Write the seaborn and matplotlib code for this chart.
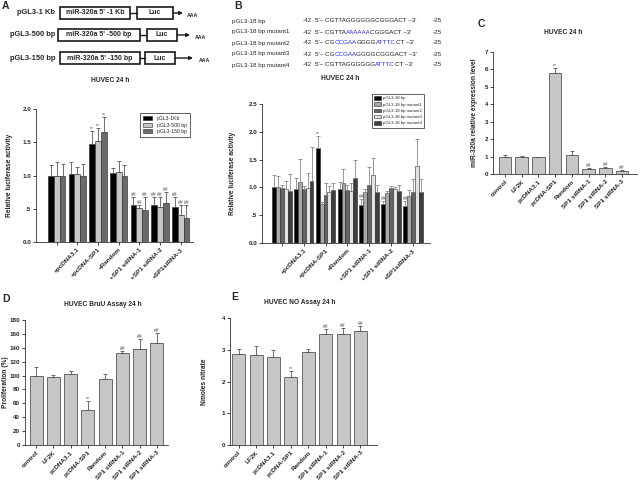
import numpy as np
import pandas as pd
import seaborn as sns
import matplotlib.pyplot as plt
from matplotlib.patches import Rectangle
from matplotlib.font_manager import FontProperties

# ---- panel A: luciferase activity of three promoter constructs ----
a_groups = ['ctrl', '+pcDNA3.1', '+pcDNA-SP1', '+Random', '+SP1 siRNA-1', '+SP1 siRNA-2', '+SP1siRNA-3']
a_ticklabels = [''] + a_groups[1:]
a_series = ['pGL3-1Kb', 'pGL3-500 bp', 'pGL3-150 bp']
a_1kb = [1.00, 1.03, 1.48, 1.04, 0.55, 0.56, 0.52]
a_1kb_sd = [0.16, 0.18, 0.19, 0.07, 0.13, 0.12, 0.16]
a_500 = [1.00, 1.03, 1.52, 1.06, 0.51, 0.53, 0.41]
a_500_sd = [0.21, 0.10, 0.20, 0.16, 0.05, 0.15, 0.15]
a_150 = [1.00, 1.00, 1.66, 0.99, 0.48, 0.59, 0.36]
a_150_sd = [0.18, 0.17, 0.22, 0.17, 0.20, 0.16, 0.20]
a_marks = ['', '', '**', '', '##', '##', '##']

# ---- panel B: 18 bp element and its mutants ----
b_series = ['pGL3-18 bp', 'pGL3-18 bp mutant1', 'pGL3-18 bp mutant2',
            'pGL3-18 bp mutant3', 'pGL3-18 bp mutant4']
b_wt = [1.00, 0.97, 1.70, 0.97, 0.69, 0.71, 0.66]
b_wt_sd = [0.23, 0.20, 0.23, 0.12, 0.11, 0.04, 0.09]
b_m1 = [1.00, 1.09, 0.71, 1.08, 0.91, 0.90, 0.84]
b_m1_sd = [0.21, 0.42, 0.03, 0.25, 0.06, 0.04, 0.12]
b_m2 = [0.99, 0.98, 0.87, 0.96, 1.05, 0.99, 0.91]
b_m2_sd = [0.06, 0.05, 0.21, 0.09, 0.31, 0.04, 0.24]
b_m3 = [0.97, 0.99, 0.92, 0.93, 1.23, 0.97, 1.38]
b_m3_sd = [0.14, 0.27, 0.10, 0.15, 0.30, 0.03, 0.49]
b_m4 = [0.94, 1.11, 0.96, 1.17, 0.91, 0.94, 0.92]
b_m4_sd = [0.30, 0.62, 0.12, 0.33, 0.14, 0.11, 0.23]
b_wt_marks = ['', '', '**', '', '##', '##', '##']

# sequences: full string plus the mutated (blue) stretches as (start, end)
seq_names = ['pGL3-18 bp', 'pGL3-18 bp mutant1', 'pGL3-18 bp mutant2',
             'pGL3-18 bp mutant3', 'pGL3-18 bp mutant4']
seq_strings = ['CGTTAGGGGGGCGGGACT', 'CGTTAAAAAAACGGGACT', 'CGCCGAAGGGGATTTCCT',
               'CGCCGAAGGGGCGGGACT', 'CGTTAGGGGGGATTTCCT']
seq_blue = [[], [(5, 11)], [(2, 7), (11, 16)], [(2, 7)], [(11, 16)]]

# ---- panels C, D, E: single series ----
cats = ['control', 'LF2K', 'pcDNA3.1', 'pcDNA-SP1', 'Random', 'SP1 siRNA-1', 'SP1 siRNA-2', 'SP1 siRNA-3']
c_vals = [1.00, 1.00, 0.97, 5.80, 1.10, 0.28, 0.33, 0.20]
c_sd = [0.08, 0.03, 0.02, 0.28, 0.20, 0.07, 0.09, 0.05]
d_vals = [100, 98, 102, 51, 95, 132, 138, 147]
d_sd = [13, 3, 5, 13, 7, 4, 14, 15]
e_vals = [2.88, 2.85, 2.78, 2.13, 2.94, 3.49, 3.49, 3.59]
e_sd = [0.14, 0.28, 0.20, 0.21, 0.09, 0.16, 0.19, 0.15]
cde_marks = ['', '', '', '**', '', '##', '##', '##']

sns.set_theme(style='ticks')
plt.rcParams['font.family'] = ['Liberation Sans', 'DejaVu Sans']
plt.rcParams['font.weight'] = 'bold'
plt.rcParams['axes.labelweight'] = 'bold'
plt.rcParams['xtick.major.size'] = 2
plt.rcParams['ytick.major.size'] = 2
plt.rcParams['xtick.major.width'] = 0.6
plt.rcParams['ytick.major.width'] = 0.6
plt.rcParams['axes.linewidth'] = 0.6
plt.rcParams['axes.edgecolor'] = '#333333'

fig = plt.figure(figsize=(6.4, 4.82), dpi=100)

# overlay in pixel coordinates for letters, titles and diagrams
ov = fig.add_axes([0, 0, 1, 1])
ov.set_xlim(0, 640)
ov.set_ylim(482, 0)
ov.axis('off')


def px_axes(x0, y0, x1, y1):
    return fig.add_axes([x0 / 640, 1 - y1 / 482, (x1 - x0) / 640, (y1 - y0) / 482])


def annotate_bars(ax, cont, sd, marks, ecolor):
    xs = [b.get_x() + b.get_width() / 2 for b in cont]
    ys = [b.get_height() for b in cont]
    ax.errorbar(xs, ys, yerr=[np.zeros(len(sd)), sd], fmt='none', ecolor=ecolor,
                elinewidth=0.6, capsize=1.3, capthick=0.6)
    for x, y, e, m in zip(xs, ys, sd, marks):
        if m:
            ax.text(x, y + e, m, ha='center', va='bottom', fontsize=3.6, color='#444444',
                    fontweight='normal')


def style_axes(ax, xlim, ylim, yticks, ytl, ylabel, ticklabels, pad):
    ax.set_xlim(*xlim)
    ax.set_ylim(*ylim)
    ax.set_yticks(yticks)
    ax.set_yticklabels(ytl, fontsize=4.5)
    ax.set_xticks(range(len(ticklabels)))
    ax.set_xticklabels(ticklabels, rotation=45, ha='right', rotation_mode='anchor', fontsize=4.6)
    ax.set_xlabel('')
    ax.set_ylabel(ylabel, fontsize=4.8, labelpad=pad)
    ax.tick_params(pad=1.5)
    sns.despine(ax=ax)


def grouped(ax, groups, series, values, colors, width):
    rows = []
    for s, vals in zip(series, values):
        for g, v in zip(groups, vals):
            rows.append({'group': g, 'series': s, 'value': v})
    df = pd.DataFrame(rows)
    sns.barplot(data=df, x='group', y='value', hue='series', order=groups, hue_order=series,
                palette=colors, width=width, errorbar=None, edgecolor='#222222', linewidth=0.4,
                saturation=1, ax=ax)


# ---- A ----
axA = px_axes(36, 109, 193, 242)
grouped(axA, a_groups, a_series, [a_1kb, a_500, a_150], ['#000000', '#c6c6c6', '#6a6a6a'], 0.85)
for cont, sd in zip(axA.containers, [a_1kb_sd, a_500_sd, a_150_sd]):
    annotate_bars(axA, cont, sd, a_marks, '#555555')
style_axes(axA, (-1.0, 6.6), (0, 2.0), [0, 0.5, 1.0, 1.5, 2.0], ['0.0', '.5', '1.0', '1.5', '2.0'],
           'Relative luciferase activity', a_ticklabels, 7)
axA.legend(loc='upper right', bbox_to_anchor=(0.995, 0.99), frameon=True, fancybox=False,
           edgecolor='#222222', framealpha=1, handlelength=1.8, handleheight=0.9, borderpad=0.6,
           labelspacing=0.3, prop={'size': 3.7, 'weight': 'normal'}).get_frame().set_linewidth(0.5)

# ---- B ----
axB = px_axes(262, 104, 430, 243)
grouped(axB, a_groups, b_series, [b_wt, b_m1, b_m2, b_m3, b_m4],
        ['#000000', '#a9a9a9', '#646464', '#e3e3e3', '#3e3e3e'], 0.9)
for cont, sd, mk in zip(axB.containers, [b_wt_sd, b_m1_sd, b_m2_sd, b_m3_sd, b_m4_sd],
                        [b_wt_marks] + [[''] * 7] * 4):
    annotate_bars(axB, cont, sd, mk, '#888888')
style_axes(axB, (-0.9, 6.77), (0, 2.5), [0, 0.5, 1.0, 1.5, 2.0, 2.5],
           ['0.0', '.5', '1.0', '1.5', '2.0', '2.5'], 'Relative luciferase activity', a_ticklabels, 9)
axB.legend(loc='upper left', bbox_to_anchor=(0.64, 1.09), frameon=True, fancybox=False,
           edgecolor='#222222', framealpha=1, handlelength=1.5, handleheight=0.9, borderpad=0.6,
           labelspacing=0.45, handletextpad=0.5,
           prop={'size': 3.1, 'weight': 'normal'}).get_frame().set_linewidth(0.5)


def single(ax, vals, sd):
    sns.barplot(x=cats, y=vals, order=cats, color='#c6c6c6', saturation=1, width=0.75,
                errorbar=None, edgecolor='#555555', linewidth=0.6, ax=ax)
    annotate_bars(ax, ax.containers[0], sd, cde_marks, '#555555')


# ---- C ----
axC = px_axes(493, 52, 637, 174)
single(axC, c_vals, c_sd)
style_axes(axC, (-0.72, 7.9), (0, 7), range(8), [str(i) for i in range(8)],
           'miR-320a relative expression level', cats, 5)

# ---- D ----
axD = px_axes(25, 320, 168, 445)
single(axD, d_vals, d_sd)
style_axes(axD, (-0.64, 7.64), (0, 180), range(0, 181, 20), [str(i) for i in range(0, 181, 20)],
           'Proliferation (%)', cats, 0.5)

# ---- E ----
axE = px_axes(230, 318, 377, 445)
single(axE, e_vals, e_sd)
style_axes(axE, (-0.5, 7.95), (0, 4), range(5), [str(i) for i in range(5)],
           'Nmoles nitrate', cats, 10)

# ---- panel letters and titles ----
for letter, x, y in [('A', 2, 6), ('B', 234, 6), ('C', 478, 24), ('D', 2, 299), ('E', 231, 297)]:
    ov.text(x, y, letter, fontsize=7.5, fontweight='bold', va='center', ha='left')
for title, x, y in [('HUVEC 24 h', 110, 80), ('HUVEC 24 h', 340, 79), ('HUVEC 24 h', 563, 33),
                    ('HUVEC BruU Assay 24 h', 103, 305), ('HUVEC NO Assay 24 h', 300, 303)]:
    ov.text(x, y, title, fontsize=4.8, fontweight='bold', ha='center', va='center')

# ---- construct diagrams (panel A top) ----
constructs = [('pGL3-1 Kb', "miR-320a 5' -1 Kb", 13, 60, 130, 137, 173, 183, 187),
              ('pGL3-500 bp', "miR-320a 5' -500 bp", 35, 58, 140, 147, 177, 190, 195),
              ('pGL3-150 bp', "miR-320a 5' -150 bp", 58, 60, 140, 145, 175, 193, 199)]
for name, box, y, bx0, bx1, lx0, lx1, ax1, aaa in constructs:
    ov.text(55, y, name, fontsize=5.4, fontweight='bold', ha='right', va='center')
    ov.add_patch(Rectangle((bx0, y - 6), bx1 - bx0, 12, fill=False, lw=1.2, ec='k'))
    ov.text((bx0 + bx1) / 2, y, box, fontsize=5.0, fontweight='bold', ha='center', va='center')
    ov.plot([bx1, lx0], [y, y], color='k', lw=1.0)
    ov.add_patch(Rectangle((lx0, y - 6), lx1 - lx0, 12, fill=False, lw=1.2, ec='k'))
    ov.text((lx0 + lx1) / 2, y, 'Luc', fontsize=5.0, fontweight='bold', ha='center', va='center')
    ov.annotate('', xy=(ax1, y), xytext=(lx1, y),
                arrowprops=dict(arrowstyle='-|>', lw=1.0, color='k', mutation_scale=5,
                                shrinkA=0, shrinkB=0))
    ov.text(aaa, y + 2.5, 'AAA', fontsize=3.8, fontweight='bold', ha='left', va='center')

# ---- sequence table (panel B top) ----
blue = '#2a2ae0'
sfs = 4.5
renderer = fig.canvas.get_renderer()
fp = FontProperties(family=['Liberation Sans', 'DejaVu Sans'], weight='normal', size=sfs)


def text_w(s):
    return renderer.get_text_width_height_descent(s, fp, ismath=False)[0]


x0 = 315
for i, (name, seq, spans) in enumerate(zip(seq_names, seq_strings, seq_blue)):
    y = 21 + i * 11
    full = "5'\u2013 " + seq + " \u20133'"
    off = len("5'\u2013 ")
    kw = dict(fontsize=sfs, fontweight='normal', ha='left', va='center')
    ov.text(232, y, name, **kw)
    ov.text(303, y, '-42', **kw)
    ov.text(433, y, '-25', **kw)
    # split the string at the mutated stretches and place each piece after the previous one
    cuts = [0]
    for s, e in spans:
        cuts += [off + s, off + e]
    cuts.append(len(full))
    for k in range(len(cuts) - 1):
        a, b = cuts[k], cuts[k + 1]
        x = x0 if a == 0 else x0 + text_w(full[:a + 1]) - text_w(full[a])
        ov.text(x, y, full[a:b], color=blue if k % 2 else 'k', **kw)

fig.savefig('out.png', dpi=100)
